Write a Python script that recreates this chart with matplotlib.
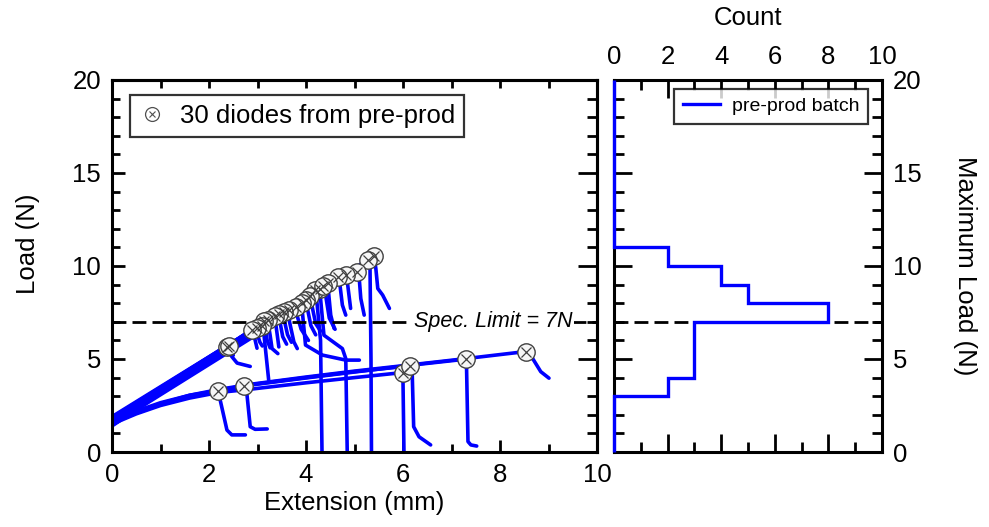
import numpy as np
import matplotlib
matplotlib.use("Agg")
import matplotlib.pyplot as plt
from matplotlib.lines import Line2D
from matplotlib.legend_handler import HandlerTuple

plt.rcParams['font.family'] = ['Liberation Sans', 'DejaVu Sans']

# ---- Pull-test curves: steep group (straight rise from the start load to the peak) ----
steep_start_load = [1.55, 1.75, 1.45, 1.70, 1.50, 1.85, 1.60, 1.40, 1.90, 1.55, 1.70, 1.50,
                    1.80, 1.60, 1.45, 1.75, 1.55, 1.65, 1.50, 1.70, 1.45, 1.80, 1.60, 1.50]
steep_peak_ext = [5.40, 5.28, 5.06, 4.82, 4.67, 4.45, 4.28, 4.19, 4.35, 4.08, 4.00, 3.91,
                  3.80, 3.65, 3.54, 3.45, 3.37, 3.22, 3.14, 3.09, 2.98, 2.89, 2.37, 2.42]
steep_peak_load = [10.55, 10.30, 9.69, 9.51, 9.42, 9.08, 8.76, 8.72, 8.90, 8.40, 8.15, 7.99,
                   7.82, 7.63, 7.52, 7.42, 7.31, 7.12, 7.04, 6.79, 6.65, 6.57, 5.64, 5.72]
steep_tail_ext = [
    [5.44, 5.48, 5.58, 5.72], [5.32, 5.34, 5.35], [5.10, 5.13, 5.20], [4.86, 4.92],
    [4.70, 4.75, 4.82], [4.47, 4.51, 4.58], [4.30, 4.37, 4.75, 4.82, 4.85], [4.22, 4.30, 4.33],
    [4.40, 4.48, 4.60], [4.12, 4.20, 4.30], [4.03, 4.10, 4.20], [3.93, 3.99, 4.34, 4.82, 5.10],
    [3.82, 3.90, 4.05], [3.66, 3.75, 3.82], [3.56, 3.62, 3.70], [3.47, 3.52, 3.60],
    [3.38, 3.44], [3.24, 3.26, 3.30, 3.42], [3.16, 3.20, 3.26], [3.13, 3.23],
    [3.00, 3.05, 3.10], [2.95, 2.99], [2.47, 2.58, 2.85], [2.45, 2.50]]
steep_tail_load = [
    [9.87, 8.79, 8.44, 7.72], [9.90, 5.00, 0.00], [9.25, 8.25, 7.36], [8.98, 7.72],
    [8.98, 7.90, 7.36], [8.44, 7.36, 6.64], [8.25, 6.28, 5.56, 5.02, 0.00], [8.20, 6.00, 0.00],
    [8.50, 7.20, 6.60], [7.90, 6.90, 6.50], [7.70, 6.80, 6.30], [7.40, 5.75, 5.21, 4.94, 4.94],
    [7.30, 6.60, 6.00], [7.00, 5.92, 5.56], [7.00, 6.30, 5.90], [6.90, 6.20, 5.80],
    [6.82, 5.65], [6.60, 6.28, 5.56, 5.29], [6.60, 6.00, 5.60], [6.39, 3.88],
    [6.30, 5.90, 5.70], [6.03, 5.58], [5.13, 4.78, 4.60], [5.40, 5.20]]

# ---- Pull-test curves: soft group (rise path up to the peak, then the tail) ----
soft_rise_ext = [
    [0.0, 0.5, 1.0, 1.6, 2.18],
    [0.0, 0.5, 1.0, 1.6, 2.2, 2.73],
    [0.0, 0.5, 1.0, 1.6, 2.2, 2.8, 4.0, 5.0, 5.99],
    [0.0, 0.5, 1.0, 1.6, 2.2, 2.8, 4.0, 5.0, 6.14],
    [0.0, 0.5, 1.0, 1.6, 2.2, 2.8, 4.0, 5.0, 6.14, 7.29],
    [0.0, 0.5, 1.0, 1.6, 2.2, 2.8, 4.0, 5.0, 6.14, 7.29, 8.53]]
soft_rise_load = [
    [1.55, 2.10, 2.55, 2.95, 3.28],
    [1.60, 2.15, 2.60, 3.05, 3.30, 3.55],
    [1.50, 2.05, 2.50, 2.90, 3.20, 3.36, 3.72, 4.00, 4.27],
    [1.65, 2.15, 2.60, 3.00, 3.32, 3.60, 4.00, 4.32, 4.63],
    [1.60, 2.10, 2.55, 3.00, 3.30, 3.58, 3.98, 4.30, 4.66, 4.99],
    [1.70, 2.20, 2.65, 3.05, 3.36, 3.62, 4.03, 4.35, 4.68, 5.02, 5.40]]
soft_tail_ext = [
    [2.23, 2.37, 2.47, 2.75], [2.78, 2.85, 2.95, 3.20], [6.00, 6.02],
    [6.19, 6.22, 6.33, 6.57], [7.31, 7.34, 7.40, 7.52], [8.67, 8.84, 9.01]]
soft_tail_load = [
    [2.80, 1.18, 0.92, 0.92], [3.16, 1.36, 1.22, 1.24], [3.80, 0.00],
    [4.24, 1.36, 0.82, 0.38], [4.60, 0.56, 0.38, 0.32], [5.04, 4.32, 3.97]]

spec_limit = 7.0
load_bins = np.arange(0, 21, 1)

BLUE = '#0000ff'
FS = 18.5
fig = plt.figure(figsize=(9.89, 5.27), dpi=100)
ax1 = fig.add_axes([112 / 989, 75 / 527, 485 / 989, 372 / 527])
ax2 = fig.add_axes([614 / 989, 75 / 527, 268 / 989, 372 / 527])

curve_kw = dict(color=BLUE, lw=2.6, solid_capstyle='round', solid_joinstyle='round', zorder=2)

peak_ext, peak_load = [], []
for y0, xp, yp, tx, ty in zip(steep_start_load, steep_peak_ext, steep_peak_load,
                              steep_tail_ext, steep_tail_load):
    ax1.plot([0.0, xp] + tx, [y0, yp] + ty, **curve_kw)
    peak_ext.append(xp)
    peak_load.append(yp)
for rx, ry, tx, ty in zip(soft_rise_ext, soft_rise_load, soft_tail_ext, soft_tail_load):
    ax1.plot(rx + tx, ry + ty, **curve_kw)
    peak_ext.append(rx[-1])
    peak_load.append(ry[-1])

# failure points: open circle with a cross
ax1.plot(peak_ext, peak_load, ls='none', marker='o', ms=12.5, mfc='#f6f6f6',
         mec='#404040', mew=1.0, zorder=4)
ax1.plot(peak_ext, peak_load, ls='none', marker='x', ms=6.5, mec='#404040',
         mew=0.9, zorder=5)

ax1.axhline(spec_limit, color='black', lw=2, dashes=(5, 2.2), zorder=3)
ax1.text(6.22, spec_limit, 'Spec. Limit = 7N', fontsize=15.5, style='italic',
         va='center', ha='left', zorder=6,
         bbox=dict(facecolor='white', edgecolor='none', pad=1.5))

ax1.set_xlim(0, 10)
ax1.set_ylim(0, 20)
ax1.set_xticks(np.arange(0, 11, 2))
ax1.set_xticks(np.arange(0, 11, 1), minor=True)
ax1.set_yticks(np.arange(0, 21, 5))
ax1.set_yticks(np.arange(0, 21, 1), minor=True)
ax1.tick_params(which='both', direction='in', width=2, labelsize=FS, pad=8)
ax1.tick_params(which='major', length=9)
ax1.tick_params(which='minor', length=5.5)
for s in ax1.spines.values():
    s.set_linewidth(2.2)

top1 = ax1.secondary_xaxis('top')
top1.set_xticks(np.arange(0, 11, 1))
top1.tick_params(direction='in', length=5.5, width=2, labeltop=False)
top1.spines['top'].set_linewidth(2.2)
right1 = ax1.secondary_yaxis('right')
right1.set_yticks(np.arange(0, 21, 5))
right1.set_yticks(np.arange(0, 21, 1), minor=True)
right1.tick_params(which='both', direction='in', width=2, labelright=False)
right1.tick_params(which='major', length=14)
right1.tick_params(which='minor', length=7)
right1.spines['right'].set_linewidth(2.2)

ax1.set_xlabel('Extension (mm)', fontsize=FS, labelpad=3)
ax1.set_ylabel('Load (N)', fontsize=FS)
ax1.yaxis.set_label_coords(-0.148, 0.56)

leg_marker = (Line2D([], [], ls='none', marker='o', ms=10, mfc='white', mec='#505050', mew=0.9),
              Line2D([], [], ls='none', marker='x', ms=5, mec='#505050', mew=0.8))
leg1 = ax1.legend([leg_marker], ['30 diodes from pre-prod'],
                  handler_map={tuple: HandlerTuple(ndivide=1)},
                  loc='upper left', bbox_to_anchor=(0.037, 0.96), borderaxespad=0,
                  fontsize=FS, frameon=True, fancybox=False, handlelength=1.0,
                  handletextpad=0.6, borderpad=0.35)
leg1.get_frame().set_edgecolor('black')
leg1.get_frame().set_linewidth(1.6)

# ---- histogram of peak loads ----
counts, edges = np.histogram(peak_load, bins=load_bins)
ax2.stairs(counts, edges, orientation='horizontal', color=BLUE, lw=2.4,
           zorder=3, clip_on=False, label='pre-prod batch')
ax2.axhline(spec_limit, color='black', lw=2, dashes=(5, 2.2), zorder=2)
ax2.set_xlim(0, 10)
ax2.set_ylim(0, 20)
ax2.set_xticks(np.arange(0, 11, 2))
ax2.set_xticks(np.arange(0, 11, 1), minor=True)
ax2.set_yticks(np.arange(0, 21, 5))
ax2.set_yticks(np.arange(0, 21, 1), minor=True)
ax2.tick_params(which='both', direction='in', width=2, labelsize=FS,
                top=True, bottom=True, left=True, right=True,
                labeltop=True, labelbottom=False, labelleft=False, labelright=True, pad=8)
ax2.tick_params(which='major', length=13)
ax2.tick_params(which='minor', length=7)
for s in ax2.spines.values():
    s.set_linewidth(2.2)
ax2.xaxis.set_label_position('top')
ax2.set_xlabel('Count', fontsize=FS, labelpad=14)
ax2.yaxis.set_label_position('right')
ax2.set_ylabel('Maximum Load (N)', fontsize=FS, rotation=270, labelpad=40)

leg2 = ax2.legend(handles=[Line2D([], [], color=BLUE, lw=2.4)], labels=['pre-prod batch'],
                  loc='upper right', bbox_to_anchor=(0.948, 0.976), borderaxespad=0,
                  fontsize=14, frameon=True, fancybox=False, handlelength=1.9,
                  handletextpad=0.6, borderpad=0.45)
leg2.get_frame().set_edgecolor('black')
leg2.get_frame().set_linewidth(1.6)

fig.savefig('out.png', dpi=100)
